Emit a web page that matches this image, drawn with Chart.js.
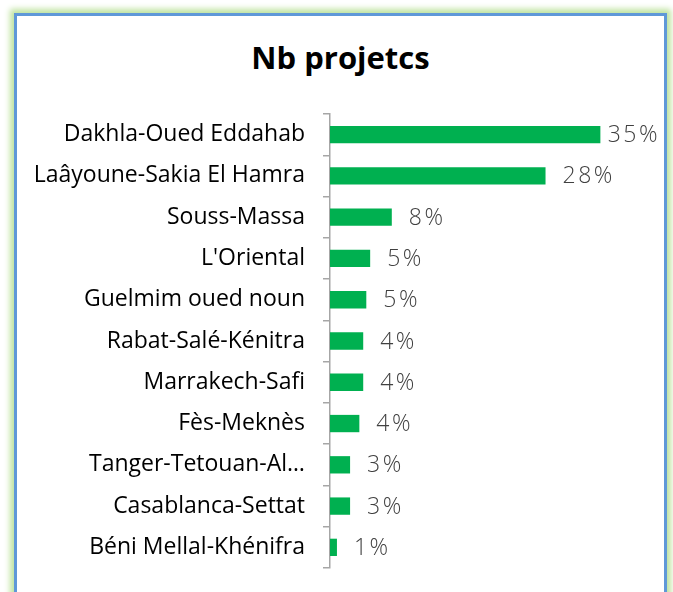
<!DOCTYPE html>
<html lang="fr">
<head>
  <meta charset="UTF-8">
  <title>Nb projetcs</title>
  <script src="https://cdn.jsdelivr.net/npm/chart.js"></script>
  <style>
    body {
      margin: 0;
      background: #ffffff;
      width: 673px;
      height: 592px;
      overflow: hidden;
      position: relative;
      font-family: 'Open Sans', sans-serif;
    }
    .card {
      position: absolute;
      left: 14px;
      top: 13px;
      width: 647px;
      height: 620px;
      border: 3px solid #5f98d8;
      box-shadow: 0 0 6px 4px #bfe3a0;
      background: #ffffff;
    }
    .title {
      position: absolute;
      left: 0;
      width: 681px;
      top: 36px;
      text-align: center;
      font-weight: 700;
      font-size: 31px;
      color: #000000;
    }
    canvas {
      position: absolute;
      left: 0;
      top: 0;
    }
  </style>
</head>
<body>
  <div class="card"></div>
  <div class="title">Nb projetcs</div>
  <canvas id="chart" width="673" height="592"></canvas>

  <script>
    const regions = [
      'Dakhla-Oued Eddahab',
      'Laâyoune-Sakia El Hamra',
      'Souss-Massa',
      "L'Oriental",
      'Guelmim oued noun',
      'Rabat-Salé-Kénitra',
      'Marrakech-Safi',
      'Fès-Meknès',
      'Tanger-Tetouan-Al…',
      'Casablanca-Settat',
      'Béni Mellal-Khénifra'
    ];
    const shares = [35, 27.9, 8.0, 5.2, 4.7, 4.3, 4.3, 3.8, 2.6, 2.6, 0.9];

    // percentage labels at the end of each bar
    const barLabels = {
      id: 'barLabels',
      afterDatasetsDraw(chart) {
        const ctx = chart.ctx;
        const meta = chart.getDatasetMeta(0);
        ctx.save();
        ctx.font = '300 23px "Open Sans"';
        ctx.letterSpacing = '2.5px';
        ctx.fillStyle = '#404040';
        ctx.textBaseline = 'middle';
        meta.data.forEach((bar, i) => {
          const txt = Math.round(shares[i]) + '%';
          const w = ctx.measureText(txt).width;
          const x = Math.min(bar.x + 17, 660 - w);
          ctx.fillText(txt, x, bar.y + 1);
        });
        ctx.restore();
      }
    };

    new Chart(document.getElementById('chart'), {
      type: 'bar',
      data: {
        labels: regions,
        datasets: [{
          data: shares,
          backgroundColor: '#00b050',
          barPercentage: 0.42,
          categoryPercentage: 1
        }]
      },
      options: {
        indexAxis: 'y',
        responsive: false,
        animation: false,
        layout: { padding: { left: 15, right: 34, top: 114, bottom: 24 } },
        scales: {
          x: { display: false, min: 0, max: 40 },
          y: {
            afterFit(scale) {
              scale.width = 315;
              scale.paddingTop = 0;
              scale.paddingBottom = 0;
            },
            border: { display: true, color: '#a6a6a6', width: 1.5 },
            grid: {
              offset: true,
              drawOnChartArea: false,
              drawTicks: true,
              tickLength: 7,
              color: '#a6a6a6',
              lineWidth: 1.5
            },
            ticks: {
              padding: 18,
              color: '#000000',
              font: { family: 'Open Sans', size: 23 }
            }
          }
        },
        plugins: {
          legend: { display: false },
          tooltip: { enabled: false }
        }
      },
      plugins: [barLabels]
    });
  </script>
</body>
</html>
